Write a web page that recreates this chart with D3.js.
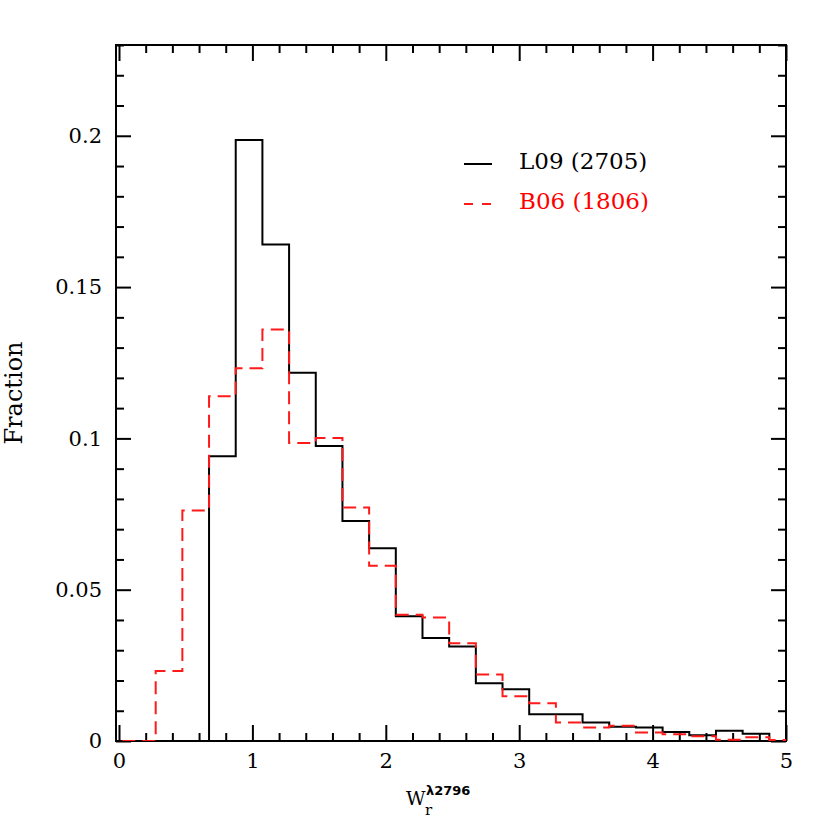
<!DOCTYPE html>
<html><head><meta charset="utf-8">
<script src="https://cdn.jsdelivr.net/npm/d3@7"></script>
<style>
html,body{margin:0;padding:0;background:#fff;}
svg{display:block;}
</style>
</head><body>
<svg id="chart" width="830" height="830"></svg>
<script>
// ---- data ----
const binWidth = 0.2;
const l09Start = 0.675;
const l09Values = [0.0941,0.1986,0.1641,0.1217,0.0975,0.0727,0.0637,0.0412,0.0340,0.0312,
  0.0191,0.0171,0.0088,0.0088,0.0061,0.0047,0.0045,0.0030,0.0019,0.0034,0.0024,0];
const b06Start = -0.125;
const b06Values = [0,0,0.0231,0.0762,0.1139,0.1232,0.1360,0.0985,0.1001,0.0772,0.0579,
  0.0417,0.0408,0.0323,0.0220,0.0148,0.0125,0.0061,0.0045,0.0050,0.0028,0.0022,0.0016,
  0.0004,0.0012,0.0003];
const xMajorTicks = [0,1,2,3,4,5];
const xTickLabels = ["0","1","2","3","4","5"];
const yMajorTicks = [0,0.05,0.1,0.15,0.2];
const yTickLabels = ["0","0.05","0.1","0.15","0.2"];
const legendLabels = ["L09 (2705)","B06 (1806)"];
const seriesColors = ["#000","#ff1a1a"];

// ---- layout ----
const L=116, R=786, T=45, B=741;
const svg = d3.select("#chart");
const x = d3.scaleLinear().domain([-0.0225,5]).range([L,R]);
const y = d3.scaleLinear().domain([0,0.23]).range([B,T]);
const font = "'DejaVu Serif', serif";

svg.append("defs").append("clipPath").attr("id","clip")
  .append("rect").attr("x",L).attr("y",T-1).attr("width",R-L).attr("height",B-T+1);

// axes (ticks inward on all four sides)
const xMinor = d3.range(0,5.0001,0.2).filter(v=>Math.abs(v-Math.round(v))>1e-6);
const yMinor = d3.range(0,0.2301,0.01).filter(v=>Math.abs(v*20-Math.round(v*20))>1e-6);

function addAxis(axis, transform){
  const a = svg.append("g").attr("transform",transform).call(axis);
  a.select(".domain").remove();
  a.selectAll("line").attr("stroke","#000").attr("stroke-width",2);
  return a;
}
// bottom
const bx = addAxis(d3.axisBottom(x).tickValues(xMajorTicks).tickSize(-16).tickPadding(12)
   .tickFormat((d,i)=>xTickLabels[i]), `translate(0,${B})`);
bx.selectAll("text").attr("font-family",font).attr("font-size",21).attr("fill","#000");
addAxis(d3.axisBottom(x).tickValues(xMinor).tickSize(-8).tickFormat(""), `translate(0,${B})`);
// top
addAxis(d3.axisTop(x).tickValues(xMajorTicks).tickSize(-16).tickFormat(""), `translate(0,${T})`);
addAxis(d3.axisTop(x).tickValues(xMinor).tickSize(-8).tickFormat(""), `translate(0,${T})`);
// left
const ly = addAxis(d3.axisLeft(y).tickValues(yMajorTicks).tickSize(-15).tickPadding(14)
   .tickFormat((d,i)=>yTickLabels[i]), `translate(${L},0)`);
ly.selectAll("text").attr("font-family",font).attr("font-size",21).attr("fill","#000");
addAxis(d3.axisLeft(y).tickValues(yMinor).tickSize(-8).tickFormat(""), `translate(${L},0)`);
// right
addAxis(d3.axisRight(y).tickValues(yMajorTicks).tickSize(-15).tickFormat(""), `translate(${R},0)`);
addAxis(d3.axisRight(y).tickValues(yMinor).tickSize(-8).tickFormat(""), `translate(${R},0)`);

// frame
svg.append("rect").attr("x",L).attr("y",T).attr("width",R-L).attr("height",B-T)
  .attr("fill","none").attr("stroke","#000").attr("stroke-width",2);

// histograms (drawn over the frame)
function stepData(start, vals){
  const pts = vals.map((v,i)=>({x:start+i*binWidth, y:v}));
  pts.push({x:start+vals.length*binWidth, y:vals[vals.length-1]});
  return pts;
}
const line = d3.line().x(d=>x(d.x)).y(d=>y(d.y)).curve(d3.curveStepAfter);
const g = svg.append("g").attr("clip-path","url(#clip)");
const l09Pts = stepData(l09Start,l09Values);
l09Pts.unshift({x:l09Start,y:0});
g.append("path").datum(l09Pts).attr("d",line)
  .attr("fill","none").attr("stroke",seriesColors[0]).attr("stroke-width",2);
g.append("path").datum(stepData(b06Start,b06Values)).attr("d",line)
  .attr("fill","none").attr("stroke",seriesColors[1]).attr("stroke-width",2)
  .attr("stroke-dasharray","13,7");

// y label
svg.append("text").attr("transform","translate(22,393) rotate(-90)")
  .attr("text-anchor","middle").attr("font-family",font).attr("font-size",24)
  .attr("fill","#000").text("Fraction");

// x label W_r^{λ2796}
const xl = svg.append("g");
xl.append("text").attr("x",406).attr("y",805).attr("font-family",font).attr("font-size",19)
  .attr("fill","#000").text("W");
xl.append("text").attr("x",426).attr("y",795).attr("font-family","'DejaVu Sans', sans-serif")
  .attr("font-weight","bold").attr("font-size",13).attr("fill","#000").text("λ2796");
xl.append("text").attr("x",425).attr("y",815).attr("font-family",font).attr("font-size",15)
  .attr("fill","#000").text("r");

// legend
const lg = svg.append("g");
legendLabels.forEach((lab,i)=>{
  const yy = 164 + i*40;
  lg.append("line").attr("x1",464).attr("x2",492).attr("y1",yy).attr("y2",yy)
    .attr("stroke",seriesColors[i]).attr("stroke-width",2)
    .attr("stroke-dasharray", i===1 ? "9,9" : null);
  lg.append("text").attr("x",519).attr("y",yy+5).attr("font-family",font).attr("font-size",23)
    .attr("fill", i===1 ? "#ff0000" : "#000").text(lab);
});
</script>
</body></html>
